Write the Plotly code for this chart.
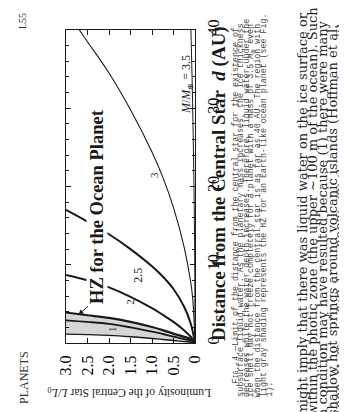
import plotly.graph_objects as go

# ---- data (L = luminosity L/L0, d = distance in AU) ----
L_grid = [0, 0.1, 0.25, 0.5, 0.75, 1.0, 1.5, 2.0, 2.5, 3.0]
d_hz_inner = [0, 0.1, 0.18, 0.32, 0.45, 0.58, 0.8, 0.97, 1.07, 1.14]
d_hz_outer = [0, 0.5, 0.8, 1.2, 1.65, 2.05, 2.7, 3.2, 3.55, 3.9]
d_m1 = [0, 0.3, 0.5, 0.8, 1.15, 1.45, 2.0, 2.45, 2.7, 2.9]
d_m2 = [0, 0.8, 1.6, 2.7, 3.6, 4.45, 5.9, 7.1, 8.0, 8.7]
d_m25 = [0, 2.5, 4.6, 6.9, 8.5, 9.8, 12.0, 13.9, 15.5, 17.0]
L_m3 = [0, 0.05, 0.1, 0.25, 0.5, 0.75, 1.0, 1.5, 2.0, 2.5, 2.69]
d_m3 = [0, 5.5, 7.8, 12.2, 17.3, 21.2, 24.4, 29.8, 34.5, 38.5, 40]
L_m35 = [0, 0.005, 0.01, 0.025, 0.05, 0.075, 0.095]
d_m35 = [0, 9, 13, 20.5, 29, 35.5, 40]

L_ticks = [3.0, 2.5, 2.0, 1.5, 1.0, 0.5, 0]
L_ticktext = ["3.0", "2.5", "2.0", "1.5", "1.0", "0.5", "0"]
d_ticks = [0, 10, 20, 30, 40]
d_ticktext = ["0", "10", "20", "30", "40"]

curve_labels = [("1", 1.92, 1.75, 10), ("2", 1.53, 5.3, 11), ("2.5", 1.33, 8.7, 12), ("3", 0.95, 21.5, 11)]

caption_lines = [
    "F<span style='font-size:6.5px'>IG</span>. 4.—Limit of the distance from the central star for the existence of",
    "subsurface liquid water. As the planetary mass increases, the ice thickness",
    "decreases while the water depth increases. Therefore, liquid water under the",
    "ice shell may not freeze completely for a planet with a mass of 3.5 <i>M</i><sub>⊕</sub> even",
    "when the distance from the central star is as far as 40 AU. The region with",
    "light gray shading represents the HZ for an Earth-like ocean planet (see Fig.",
    "1).",
]
body_lines = [
    "might imply that there was liquid water on the ice surface or",
    "within the photic zone (the upper ~100 m of the ocean). Such",
    "a condition may have resulted because (1) there were many",
    "shallow hot springs around volcanic islands (Hoffman et al.",
    "1998; Hoffman &amp; Schrag 2002), (2) there were regions with",
    "very thin ice (&lt; 30 m) through which sunlight penetrated and",
]

W, H = 347, 412
ML, MR, MT, MB = 58, 160, 22, 77
PW, PH = W - ML - MR, H - MT - MB


def P(X, Y):
    return (X - ML) / PW, (H - MB - Y) / PH


SERIF = "Liberation Serif"
INK = "#1a1a1a"

fig = go.Figure()
line_kw = dict(mode="lines", line_shape="spline", hoverinfo="skip")
fig.add_trace(go.Scatter(x=L_grid, y=d_hz_inner, line=dict(color=INK, width=1.4), **line_kw))
fig.add_trace(go.Scatter(x=L_grid, y=d_hz_outer, fill="tonexty", fillcolor="#d6d6d6",
                         line=dict(color=INK, width=2.2), **line_kw))
fig.add_trace(go.Scatter(x=L_grid, y=d_m1, line=dict(color=INK, width=1.8), **line_kw))
fig.add_trace(go.Scatter(x=L_grid, y=d_m2, line=dict(color=INK, width=2.0), **line_kw))
fig.add_trace(go.Scatter(x=L_grid, y=d_m25, line=dict(color=INK, width=2.0), **line_kw))
fig.add_trace(go.Scatter(x=L_m3, y=d_m3, line=dict(color=INK, width=1.1), **line_kw))
fig.add_trace(go.Scatter(x=L_m35, y=d_m35, line=dict(color=INK, width=1.0), **line_kw))

ann = []
for txt, lx, ly, fs in curve_labels:
    ann.append(dict(x=lx, y=ly, xref="x", yref="y", text=txt, showarrow=False, textangle=-90,
                    xanchor="center", yanchor="middle",
                    font=dict(family=SERIF, size=fs, color=INK)))


def page_text(X, Y, text, size, angle=-90, family=SERIF, color=INK, xa="center", ya="middle", **kw):
    x, y = P(X, Y)
    d = dict(x=x, y=y, xref="paper", yref="paper", text=text, showarrow=False, textangle=angle,
             xanchor=xa, yanchor=ya, font=dict(family=family, size=size, color=color))
    d.update(kw)
    ann.append(d)


# HZ label with arrow
page_text(89, 199, "<b>HZ for the Ocean Planet</b>", 18.5, bgcolor="white", borderpad=0)
ann.append(dict(x=2.71, y=3.6, xref="x", yref="y", text="", showarrow=True, arrowhead=2,
                arrowsize=1, arrowwidth=1, arrowcolor=INK, ax=11, ay=-10))
page_text(179, 77, "<i>M</i>/<i>M</i><sub>⊕</sub> = 3.5", 12)

# axis titles
page_text(122, 384, "Luminosity of the Central Star <i>L</i>/<i>L</i><sub>0</sub>", 11.5, angle=180)
page_text(211, 176, "<b>Distance from the Central Star&nbsp; <i>d</i> (AU)</b>", 19)

# page header
page_text(15, 13, "L55", 10, color="#333")
page_text(16, 370, "PLANETS", 12, color="#333")

# caption
cap_x = [226.5, 232.3, 238.1, 243.9, 249.7, 255.5, 261.3]
for i, (t, cx) in enumerate(zip(caption_lines, cap_x)):
    page_text(cx, 378 if i == 0 else 391, t, 8.3, family="Liberation Mono", color="#4a4a4a",
              ya="bottom")

# body text
body_x = [294, 304.2, 314.4, 324.6, 334.8, 345]
for t, bx in zip(body_lines, body_x):
    page_text(bx, 410, t, 13, family="DejaVu Serif", color="#262626", ya="bottom")

fig.update_layout(
    width=W, height=H, margin=dict(l=ML, r=MR, t=MT, b=MB, pad=0, autoexpand=False),
    paper_bgcolor="white", plot_bgcolor="white", showlegend=False,
    annotations=ann,
    xaxis=dict(range=[3, 0], tickvals=L_ticks, ticktext=L_ticktext, tickangle=-90,
               ticks="inside", ticklen=5, tickwidth=1, tickcolor=INK, automargin=False,
               showline=True, linecolor=INK, linewidth=1.2, mirror="ticks",
               showgrid=False, zeroline=False, ticklabelstandoff=5,
               tickfont=dict(family=SERIF, size=16, color="#000")),
    yaxis=dict(range=[0, 40], tickvals=d_ticks, ticktext=d_ticktext, tickangle=-90, side="right",
               ticks="inside", ticklen=5, tickwidth=1, tickcolor=INK, automargin=False,
               minor=dict(dtick=2, ticks="inside", ticklen=3, tickcolor=INK),
               showline=True, linecolor=INK, linewidth=1.2, mirror="ticks",
               showgrid=False, zeroline=False, ticklabelstandoff=4,
               tickfont=dict(family=SERIF, size=16, color="#000")),
)

fig.write_html("out.html")
